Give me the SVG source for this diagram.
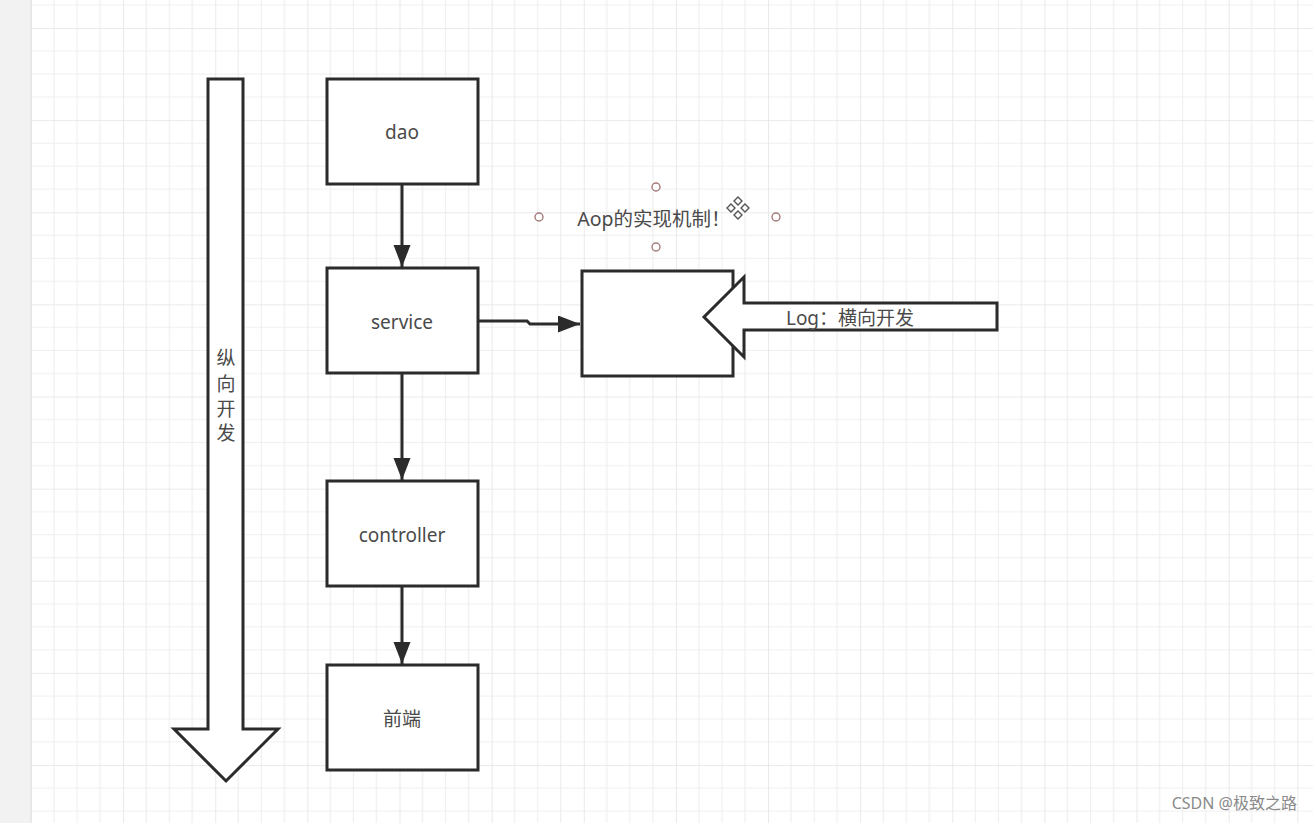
<svg xmlns="http://www.w3.org/2000/svg" width="1313" height="823" viewBox="0 0 1313 823">
  <defs>
    <pattern id="grid" patternUnits="userSpaceOnUse" x="31" y="28" width="92.13" height="92.13">
      <path d="M23.03,0 V92.13 M46.07,0 V92.13 M69.1,0 V92.13 M0,23.03 H92.13 M0,46.07 H92.13 M0,69.1 H92.13" stroke="#efefef" stroke-width="1.2" fill="none"/>
      <path d="M0,0 V92.13 M0,0 H92.13" stroke="#e4e4e4" stroke-width="1.6" fill="none"/>
    </pattern>
    <marker id="ah" markerUnits="userSpaceOnUse" markerWidth="24" markerHeight="18" viewBox="0 0 24 18" refX="22" refY="8.5" orient="auto">
      <path d="M0,0 L22,8.5 L0,17 z" fill="#2b2b2b"/>
    </marker>
    <style>
      .box { fill: #ffffff; stroke: #2b2b2b; stroke-width: 3; }
      .bigarrow { fill: #ffffff; stroke: #2b2b2b; stroke-width: 3; stroke-linejoin: miter; }
      .lbl { font-family: "Noto Sans", "Noto Sans CJK SC", sans-serif; font-size: 19px; fill: #4a4a4a; text-anchor: middle; dominant-baseline: central; }
      .conn { fill: none; stroke: #2b2b2b; stroke-width: 3; marker-end: url(#ah); }
      .handle { fill: #ffffff; stroke: #a57a7a; stroke-width: 1.4; }
    </style>
  </defs>

  <rect x="0" y="0" width="1313" height="823" fill="#ffffff"/>
  <rect x="31" y="0" width="1282" height="823" fill="url(#grid)"/>
  <rect x="0" y="0" width="31" height="823" fill="#f2f2f2"/>
  <line x1="31" y1="0" x2="31" y2="823" stroke="#e6e6e6" stroke-width="1.5"/>

  <g id="vertical-arrow">
    <path class="bigarrow" d="M208,79 H243 V729 H278 L226,781 L174,729 H208 Z"/>
    <text class="lbl" x="226" y="358">纵</text>
    <text class="lbl" x="226" y="384">向</text>
    <text class="lbl" x="226" y="409">开</text>
    <text class="lbl" x="226" y="433">发</text>
  </g>

  <g id="dao">
    <rect class="box" x="327" y="79" width="151" height="105"/>
    <text class="lbl" x="402" y="132">dao</text>
  </g>

  <g id="service">
    <rect class="box" x="327" y="268" width="151" height="105"/>
    <text class="lbl" x="402" y="322">service</text>
  </g>

  <g id="controller">
    <rect class="box" x="327" y="481" width="151" height="105"/>
    <text class="lbl" x="402" y="535">controller</text>
  </g>

  <g id="frontend">
    <rect class="box" x="327" y="665" width="151" height="105"/>
    <text class="lbl" x="402" y="719">前端</text>
  </g>

  <g id="aop-box">
    <rect class="box" x="582" y="271" width="151" height="105"/>
  </g>

  <g id="log-arrow">
    <path class="bigarrow" d="M997,303 V330 H744 V357 L704,317 L744,277 V303 Z"/>
    <text class="lbl" x="850" y="318">Log：横向开发</text>
  </g>

  <g id="aop-label">
    <text class="lbl" x="654" y="218" style="font-size:19.5px" fill="#505050">Aop的实现机制！</text>
    <circle class="handle" cx="656" cy="187" r="4"/>
    <circle class="handle" cx="539" cy="217" r="4"/>
    <circle class="handle" cx="776" cy="217" r="4"/>
    <circle class="handle" cx="656" cy="247" r="4"/>
    <g fill="#ffffff" stroke="#555555" stroke-width="1.4">
      <path d="M738,197 L742,201 L738,205 L734,201 Z"/>
      <path d="M738,211 L742,215 L738,219 L734,215 Z"/>
      <path d="M731,204 L735,208 L731,212 L727,208 Z"/>
      <path d="M745,204 L749,208 L745,212 L741,208 Z"/>
    </g>
  </g>

  <g id="connectors">
    <line class="conn" x1="402" y1="184" x2="402" y2="267"/>
    <line class="conn" x1="402" y1="373" x2="402" y2="480"/>
    <line class="conn" x1="402" y1="586" x2="402" y2="664"/>
    <path class="conn" d="M478,321 L527,321 L530,324 L580,324"/>
  </g>

  <text x="1297" y="809" font-family="Noto Sans, Noto Sans CJK SC, sans-serif" font-size="16" fill="#8a8a8a" text-anchor="end">CSDN @极致之路</text>
</svg>
